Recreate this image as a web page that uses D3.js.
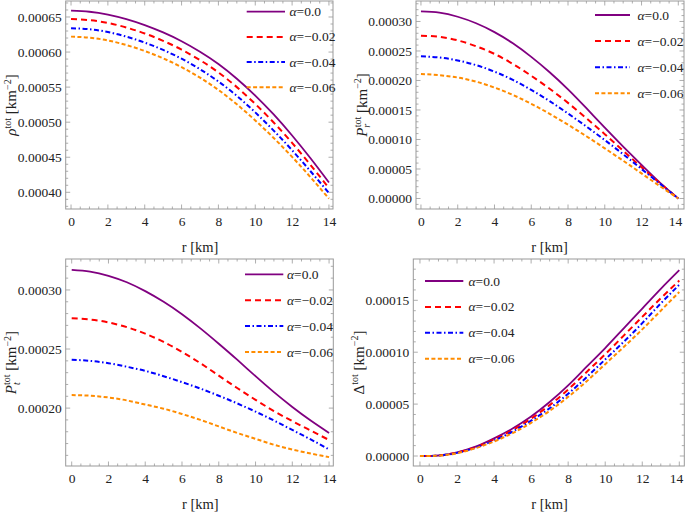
<!DOCTYPE html>
<html><head><meta charset="utf-8">
<script src="https://cdn.jsdelivr.net/npm/d3@7"></script>
<style>body{margin:0;background:#fff} svg{display:block}</style>
</head><body><svg id="c" width="685" height="514"></svg>
<script>
// ---------------- data ----------------
const radius = [0,1,2,3,4,5,6,7,8,9,10,11,12,13,14];
const alphaLabels = ["0.0","\u22120.02","\u22120.04","\u22120.06"];

// rho^tot
const rhoA0  = [659e-6,657.5e-6,653.5e-6,647e-6,638.5e-6,628e-6,615.5e-6,600.5e-6,583e-6,562e-6,538e-6,511e-6,481e-6,448.5e-6,414e-6];
const rhoA02 = [647e-6,645.5e-6,641.5e-6,635e-6,626.5e-6,616e-6,603.5e-6,588.5e-6,571e-6,550e-6,526e-6,499.5e-6,470.5e-6,439e-6,406e-6];
const rhoA04 = [634e-6,632.5e-6,628.5e-6,622e-6,613.5e-6,603e-6,590.5e-6,575.5e-6,558e-6,537.5e-6,514e-6,488e-6,460e-6,430e-6,399e-6];
const rhoA06 = [622e-6,620.5e-6,616.5e-6,610e-6,601.5e-6,591e-6,578.5e-6,563.5e-6,546e-6,525.5e-6,502.5e-6,477.5e-6,450.5e-6,421.5e-6,391e-6];

// P_r^tot
const prA0  = [317e-6,315e-6,308e-6,297e-6,282e-6,263e-6,240e-6,214e-6,185e-6,153e-6,120e-6,88e-6,57e-6,27e-6,0];
const prA02 = [276e-6,274e-6,268e-6,258e-6,245e-6,228e-6,208e-6,186e-6,162e-6,136e-6,109e-6,81e-6,53e-6,26e-6,0];
const prA04 = [241e-6,239e-6,234e-6,226e-6,215e-6,201e-6,184e-6,165e-6,144e-6,122e-6,99e-6,75e-6,50e-6,25e-6,0];
const prA06 = [211e-6,209e-6,205e-6,198e-6,188e-6,175.5e-6,160.5e-6,143.5e-6,125e-6,105.5e-6,85e-6,64e-6,42.5e-6,21e-6,0];

// P_t^tot
const ptA0  = [317e-6,315.5e-6,312e-6,306.5e-6,299e-6,290e-6,279.5e-6,267.5e-6,254.5e-6,241e-6,227e-6,213.5e-6,201e-6,189.5e-6,179e-6];
const ptA02 = [276e-6,275e-6,272.5e-6,268.5e-6,263e-6,256e-6,247.5e-6,238e-6,227.5e-6,217e-6,207e-6,197.5e-6,189e-6,181e-6,173e-6];
const ptA04 = [241e-6,240e-6,238e-6,235e-6,231.5e-6,227e-6,222e-6,216.5e-6,210.5e-6,204e-6,197e-6,189.5e-6,181.5e-6,173.5e-6,165e-6];
const ptA06 = [211e-6,210.5e-6,209e-6,206.5e-6,203e-6,199.5e-6,195e-6,190e-6,184.5e-6,179e-6,174e-6,169e-6,165e-6,161.5e-6,158.5e-6];

// Delta^tot
const dA0  = [0,0.5e-6,3.5e-6,9e-6,17e-6,26.5e-6,38e-6,52e-6,68e-6,86e-6,104e-6,123e-6,142e-6,161e-6,179e-6];
const dA02 = [0,0.5e-6,3.3e-6,8.5e-6,16e-6,25e-6,36e-6,49e-6,64e-6,81e-6,98e-6,116e-6,134e-6,152e-6,169e-6];
const dA04 = [0,0.4e-6,3e-6,8e-6,15e-6,23.5e-6,34e-6,46e-6,60e-6,76e-6,93e-6,110e-6,128e-6,147e-6,165e-6];
const dA06 = [0,0.3e-6,2.7e-6,7.5e-6,14e-6,22e-6,32e-6,43.5e-6,57e-6,72e-6,88.5e-6,105e-6,122e-6,140e-6,158e-6];

const xTicks = [0,2,4,6,8,10,12,14];
const rhoTicks = [0.00040,0.00045,0.00050,0.00055,0.00060,0.00065];
const prTicks  = [0,0.00005,0.00010,0.00015,0.00020,0.00025,0.00030];
const ptTicks  = [0.00020,0.00025,0.00030];
const dTicks   = [0,0.00005,0.00010,0.00015];

// ---------------- styles ----------------
const colors = ["#800080","#ff0000","#0000ff","#ff8c00"];
const dashes = [null,"6,4","5,2.5,1.5,2.5","4,2.4"];
const widths = [1.8,2,2,2];

const panels = [
  {series:[rhoA0,rhoA02,rhoA04,rhoA06], ticks:rhoTicks, x0:65.7,x1:333,y0:1,y1:209,
   xDom:[-0.29,14.22], yDom:[0.0003762,0.0006728], title:"rho",
   leg:{lx0:246.7,lx1:285,tx:289.5,y:11.7,dy:25.2}},
  {series:[prA0,prA02,prA04,prA06], ticks:prTicks, x0:416,x1:684,y0:1,y1:209,
   xDom:[-0.27,14.31], yDom:[-0.0000178,0.0003347], title:"pr",
   leg:{lx0:595,lx1:630,tx:637.5,y:15,dy:26.1}},
  {series:[ptA0,ptA02,ptA04,ptA06], ticks:ptTicks, x0:65.7,x1:333.3,y0:259,y1:466,
   xDom:[-0.326,14.23], yDom:[0.000151,0.0003262], title:"pt",
   leg:{lx0:245,lx1:283.3,tx:287,y:274.3,dy:25.9}},
  {series:[dA0,dA02,dA04,dA06], ticks:dTicks, x0:413.3,x1:684.3,y0:259,y1:466,
   xDom:[-0.36,14.27], yDom:[-0.00000963,0.0001898], title:"d",
   leg:{lx0:425,lx1:463.3,tx:468.5,y:281,dy:25.9}}
];

const svg = d3.select("#c");
const FONT = "'Liberation Serif','Times New Roman',serif";
const frameCol = "#999";

function minorTicks(dom, step){
  const out=[]; const s=Math.ceil(dom[0]/step-1e-9), e=Math.floor(dom[1]/step+1e-9);
  for(let i=s;i<=e;i++) out.push(+(i*step).toFixed(8));
  return out;
}

panels.forEach(p=>{
  const g = svg.append("g");
  const x = d3.scaleLinear().domain(p.xDom).range([p.x0,p.x1]);
  const y = d3.scaleLinear().domain(p.yDom).range([p.y1,p.y0]);

  // ticks on all four sides, pointing inward
  const xm = minorTicks(p.xDom,0.5), ym = minorTicks(p.yDom,0.00001);
  const tk = g.append("g").attr("stroke",frameCol).attr("stroke-width",0.8);
  xm.forEach(v=>{
    const major = Math.abs(v/2-Math.round(v/2))<1e-6;
    const L = major?4.5:2.5;
    tk.append("line").attr("x1",x(v)).attr("x2",x(v)).attr("y1",p.y1).attr("y2",p.y1-L);
    tk.append("line").attr("x1",x(v)).attr("x2",x(v)).attr("y1",p.y0).attr("y2",p.y0+L);
  });
  ym.forEach(v=>{
    const major = Math.abs(v/0.00005-Math.round(v/0.00005))<1e-6;
    const L = major?4.5:2.5;
    tk.append("line").attr("y1",y(v)).attr("y2",y(v)).attr("x1",p.x0).attr("x2",p.x0+L);
    tk.append("line").attr("y1",y(v)).attr("y2",y(v)).attr("x1",p.x1).attr("x2",p.x1-L);
  });

  // frame
  g.append("rect").attr("x",p.x0).attr("y",p.y0).attr("width",p.x1-p.x0).attr("height",p.y1-p.y0)
    .attr("fill","none").attr("stroke",frameCol).attr("stroke-width",1);

  // tick labels via axes
  const xa = g.append("g").attr("transform",`translate(0,${p.y1})`)
    .call(d3.axisBottom(x).tickValues(xTicks).tickSize(0).tickPadding(7).tickFormat(d3.format("d")));
  const ya = g.append("g").attr("transform",`translate(${p.x0},0)`)
    .call(d3.axisLeft(y).tickValues(p.ticks).tickSize(0).tickPadding(4).tickFormat(d3.format(".5f")));
  [xa,ya].forEach(a=>{
    a.select(".domain").remove();
    a.selectAll("text").attr("font-family",FONT).attr("font-size",13.5).attr("fill","#222");
  });
  xa.selectAll(".tick").filter(d=>x(d)+8>685).select("text").attr("text-anchor","end").attr("dx",3.5);

  // curves
  const line = d3.line().x((d,i)=>x(radius[i])).y(d=>y(d)).curve(d3.curveNatural);
  p.series.forEach((s,k)=>{
    g.append("path").attr("d",line(s)).attr("fill","none")
      .attr("stroke",colors[k]).attr("stroke-width",widths[k])
      .attr("stroke-dasharray",dashes[k]);
  });

  // legend
  const lg = p.leg;
  alphaLabels.forEach((lab,k)=>{
    const yy = lg.y + k*lg.dy;
    g.append("line").attr("x1",lg.lx0).attr("x2",lg.lx1).attr("y1",yy).attr("y2",yy)
      .attr("stroke",colors[k]).attr("stroke-width",widths[k]).attr("stroke-dasharray",dashes[k]);
    const t = g.append("text").attr("x",lg.tx).attr("y",yy+4.5)
      .attr("font-family",FONT).attr("font-size",13.5).attr("fill","#222");
    t.append("tspan").attr("font-style","italic").text("\u03b1");
    t.append("tspan").text("="+lab);
  });

  // x title
  g.append("text").attr("x",(x(0)+x(14))/2).attr("y",p.y1+43)
    .attr("text-anchor","middle").attr("font-family",FONT).attr("font-size",14.5).attr("fill","#222")
    .text("r [km]");

  // y title
  const cx = p.x0 - 49.5, cy = (p.y0+p.y1)/2;
  const yt = g.append("text").attr("transform",`translate(${cx},${cy}) rotate(-90)`)
    .attr("text-anchor","middle").attr("font-family",FONT).attr("font-size",15).attr("fill","#222");
  if(p.title==="rho"){
    yt.append("tspan").attr("font-style","italic").text("\u03c1");
    yt.append("tspan").attr("font-size",10).attr("dy",-5.5).text("tot");
    yt.append("tspan").attr("dy",5.5).text(" [km");
  } else if(p.title==="pr" || p.title==="pt"){
    yt.append("tspan").attr("font-style","italic").text("P");
    yt.append("tspan").attr("font-style","italic").attr("font-size",10).attr("dy",3.5).text(p.title==="pr"?"r":"t");
    yt.append("tspan").attr("font-size",10).attr("dx",p.title==="pr"?-3.5:-2.8).attr("dy",-9.5).text("tot");
    yt.append("tspan").attr("dy",6).text(" [km");
  } else {
    yt.append("tspan").text("\u0394");
    yt.append("tspan").attr("font-size",10).attr("dy",-5.5).text("tot");
    yt.append("tspan").attr("dy",5.5).text(" [km");
  }
  yt.append("tspan").attr("font-size",10).attr("dy",-5.5).text("\u22122");
  yt.append("tspan").attr("dy",5.5).text("]");
});
</script>
</body></html>
